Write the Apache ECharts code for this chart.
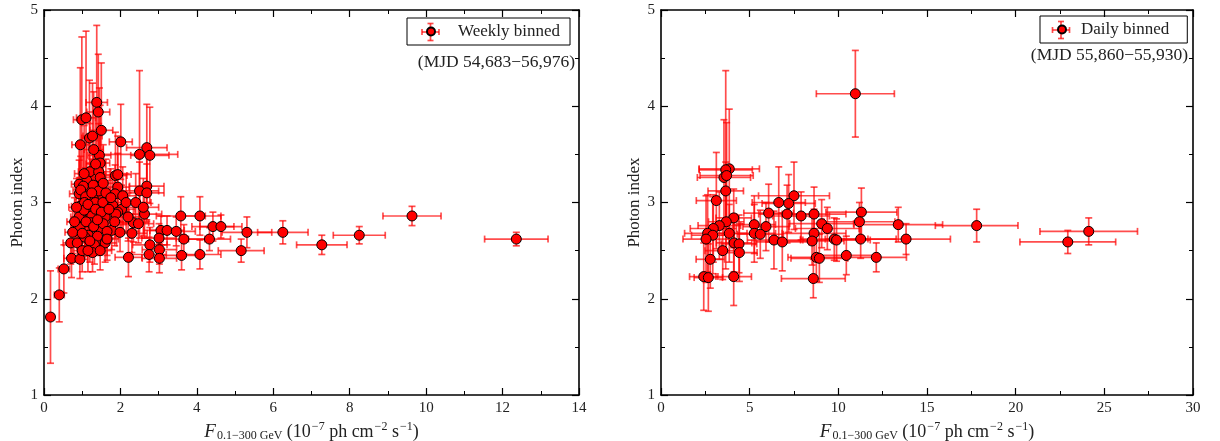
<!DOCTYPE html>
<html><head><meta charset="utf-8">
<script src="https://cdn.jsdelivr.net/npm/echarts@6/dist/echarts.min.js"></script>
<style>html,body{margin:0;padding:0;background:#fff}#c{width:1220px;height:441px}</style>
</head><body><div id="c"></div>
<script>
// ---------- Weekly binned (left panel) ----------
const weeklyFlux = [1.38,1.42,0.99,1.10,1.19,1.27,2.01,2.69,2.50,2.77,1.45,1.47,1.20,1.43,1.47,1.87,1.93,1.12,0.92,1.03,
  1.29,1.93,2.69,2.50,2.69,0.92,1.43,1.62,1.86,2.06,1.20,0.96,1.29,1.09,0.94,1.06,1.34,1.54,1.80,2.03,
  1.93,0.92,1.20,1.25,1.60,1.88,2.63,3.58,2.34,2.47,0.94,1.23,1.47,1.77,1.99,2.30,0.75,1.16,1.40,0.70,
  0.87,1.07,1.32,1.60,1.27,1.47,0.72,0.94,2.21,3.06,3.22,3.46,3.01,3.66,4.33,2.77,3.02,2.75,3.02,3.60,
  4.42,4.63,5.16,5.31,6.25,7.27,8.25,9.63,12.36,0.52,0.40,0.17,
  1.05,1.15,1.35,1.50,1.70,1.10,1.30,1.55,1.00,1.20,1.40,1.65,1.85,0.85,1.25,1.55,1.75,2.15,2.20,1.00,
  1.15,1.65,0.80,1.35,1.05,0.95,1.30,1.50,2.40,2.60,4.08,4.08];
const weeklyIndex = [4.04,3.94,3.86,3.88,3.67,3.69,3.63,3.57,3.50,3.49,3.49,3.41,3.32,3.32,3.26,3.28,3.29,3.23,3.19,3.17,
  3.18,3.16,3.17,3.12,3.10,3.09,3.12,3.10,3.09,3.07,3.06,3.13,3.04,3.06,2.96,3.00,3.00,3.00,2.97,2.93,
  2.90,2.85,2.89,2.86,2.85,2.88,2.88,2.86,2.79,2.78,2.74,2.79,2.73,2.71,2.69,2.68,2.69,2.66,2.65,2.58,
  2.58,2.64,2.56,2.58,2.48,2.50,2.42,2.41,2.43,2.71,2.71,2.70,2.63,2.62,2.62,2.56,2.51,2.46,2.42,2.45,
  2.75,2.75,2.50,2.69,2.69,2.56,2.66,2.86,2.62,2.31,2.04,1.81,
  2.92,2.98,2.93,2.90,2.93,2.80,2.75,2.78,2.68,2.60,2.82,2.70,2.80,2.95,3.10,3.20,3.05,3.00,2.85,2.50,
  2.50,2.62,2.80,3.40,3.30,3.60,3.55,3.75,3.00,2.95,2.86,2.46];
const weeklyFluxErr = [0.28,0.30,0.22,0.25,0.20,0.25,0.30,0.53,1.00,0.50,0.30,0.25,0.30,0.30,0.25,0.30,0.35,0.25,0.20,0.22,
  0.25,0.30,0.45,0.50,0.45,0.25,0.30,0.30,0.30,0.35,0.25,0.20,0.25,0.25,0.22,0.25,0.25,0.30,0.30,0.35,
  0.30,0.22,0.25,0.25,0.30,0.30,0.45,0.64,0.40,0.40,0.22,0.25,0.30,0.30,0.35,0.40,0.20,0.25,0.25,0.20,
  0.20,0.25,0.25,0.30,0.25,0.30,0.20,0.20,0.35,0.45,0.45,0.50,0.45,0.55,0.55,0.45,0.45,0.45,0.45,0.50,
  0.55,0.55,0.60,0.65,0.66,0.66,0.68,0.76,0.83,0.15,0.13,0.10,
  0.25,0.25,0.25,0.30,0.30,0.25,0.25,0.30,0.22,0.25,0.25,0.30,0.30,0.20,0.25,0.30,0.30,0.35,0.35,0.22,
  0.25,0.30,0.20,0.25,0.25,0.22,0.25,0.30,0.40,0.40,0.55,0.55];
const weeklyIndexErr = [0.80,0.60,0.86,0.90,0.60,0.55,0.39,0.45,0.87,0.50,0.70,0.60,0.50,0.50,0.45,0.45,0.40,0.45,0.40,0.45,
  0.40,0.35,0.35,0.30,0.30,0.35,0.35,0.35,0.30,0.30,0.35,0.35,0.30,0.30,0.30,0.30,0.30,0.30,0.30,0.25,
  0.25,0.25,0.25,0.25,0.25,0.25,0.25,0.20,0.20,0.20,0.22,0.22,0.20,0.20,0.20,0.20,0.22,0.20,0.20,0.22,
  0.20,0.20,0.20,0.20,0.20,0.20,0.20,0.20,0.20,0.15,0.15,0.15,0.15,0.15,0.12,0.18,0.15,0.18,0.15,0.15,
  0.15,0.12,0.12,0.16,0.12,0.10,0.09,0.10,0.07,0.25,0.28,0.48,
  0.30,0.30,0.30,0.30,0.30,0.25,0.25,0.25,0.25,0.22,0.30,0.25,0.25,0.30,0.35,0.40,0.30,0.30,0.25,0.22,
  0.22,0.22,0.25,0.55,0.50,0.80,0.60,0.70,0.30,0.30,0.20,0.15];

// ---------- Daily binned (right panel) ----------
const dailyFlux = [10.96,3.85,3.65,3.55,3.70,3.65,3.12,7.50,6.64,7.20,6.07,7.11,7.90,8.63,11.30,11.19,9.06,9.38,4.10,3.68,
  5.26,5.92,13.38,3.29,2.95,3.85,5.26,5.60,8.63,2.63,2.92,2.54,4.12,6.37,6.84,8.52,9.77,9.90,11.26,4.40,
  3.48,4.42,2.78,8.76,8.93,10.45,12.14,2.41,2.67,4.10,8.59,13.82,17.80,22.94,24.12];
const dailyIndex = [4.13,3.35,3.34,3.26,3.28,3.12,3.02,3.07,3.00,2.99,2.89,2.88,2.86,2.88,2.90,2.80,2.78,2.73,2.84,2.80,
  2.77,2.75,2.77,2.76,2.73,2.68,2.68,2.67,2.68,2.68,2.66,2.62,2.58,2.61,2.59,2.60,2.62,2.61,2.62,2.57,
  2.50,2.48,2.41,2.43,2.42,2.45,2.43,2.23,2.22,2.23,2.21,2.62,2.76,2.59,2.70];
const dailyFluxErr = [2.20,1.70,1.50,1.50,1.50,1.00,1.13,2.00,1.50,1.50,1.40,1.60,1.60,1.80,2.00,2.00,1.80,1.80,1.00,1.00,
  1.20,1.30,2.50,1.20,1.30,1.00,1.20,1.30,1.80,1.30,1.20,1.30,1.00,1.50,1.50,1.80,1.90,1.90,2.00,1.00,
  1.00,1.00,0.80,1.60,1.60,1.70,1.70,0.80,0.80,1.00,1.80,2.50,2.33,2.70,2.75];
const dailyIndexErr = [0.45,0.62,1.03,0.60,0.55,0.30,0.50,0.35,0.37,0.30,0.30,0.30,0.25,0.28,0.25,0.20,0.25,0.22,0.30,0.30,
  0.30,0.25,0.18,0.35,0.35,0.30,0.30,0.25,0.25,0.40,0.40,0.45,0.30,0.30,0.30,0.25,0.22,0.22,0.20,0.30,
  0.30,0.30,0.30,0.25,0.25,0.20,0.15,0.35,0.35,0.30,0.20,0.16,0.17,0.12,0.14];

// axis ticks
const weeklyXTicks = [0,2,4,6,8,10,12,14];
const dailyXTicks = [0,5,10,15,20,25,30];
const indexTicks = [1,2,3,4,5];

const FONT = "'Liberation Serif','DejaVu Serif',serif";
const ERR_COLOR = 'rgba(255,0,0,0.7)';

function rows(xs, ys, xe, ye){ return xs.map((x,i)=>[x, ys[i], xe[i], ye[i]]); }

function errRender(params, api){
  const x = api.value(0), y = api.value(1), xe = api.value(2), ye = api.value(3);
  const l = api.coord([x-xe, y]), r = api.coord([x+xe, y]);
  const t = api.coord([x, y+ye]), b = api.coord([x, y-ye]);
  const cap = 3.5;
  const style = {stroke: ERR_COLOR, lineWidth: 1.7};
  const ln = (x1,y1,x2,y2)=>({type:'line', shape:{x1,y1,x2,y2}, style});
  return {type:'group', children:[
    ln(l[0],l[1],r[0],r[1]),
    ln(l[0],l[1]-cap,l[0],l[1]+cap),
    ln(r[0],r[1]-cap,r[0],r[1]+cap),
    ln(t[0],t[1],b[0],b[1]),
    ln(t[0]-cap,t[1],t[0]+cap,t[1]),
    ln(b[0]-cap,b[1],b[0]+cap,b[1])
  ]};
}

const xName = {
  formatter: '{f|F}{sub|0.1−300 GeV}{n| (10}{sup|−7}{n| ph cm}{sup|−2}{n| s}{sup|−1}{n|)}',
  rich: {
    f: {fontFamily: FONT, fontStyle:'italic', fontSize: 19, color:'#222'},
    sub: {fontFamily: FONT, fontSize: 12, color:'#222', padding:[8,0,0,1]},
    n: {fontFamily: FONT, fontSize: 18, color:'#222'},
    sup: {fontFamily: FONT, fontSize: 12, color:'#222', padding:[0,0,10,1]}
  }
};

function axisCommon(min, max, interval, showLabels){
  return {
    min, max, interval,
    axisLine: {onZero:false, lineStyle:{color:'#000', width:1.6}},
    axisTick: {inside:true, length:7, lineStyle:{color:'#000', width:1.2}},
    minorTick: {show:true, splitNumber:2, length:4, lineStyle:{color:'#000', width:1}},
    splitLine: {show:false},
    axisLabel: {show: showLabels, color:'#222', fontFamily: FONT, fontSize: 15, margin: 6}
  };
}

const grids = [
  {left:44, top:10, width:535, height:385, containLabel:false, outerBoundsMode:'none'},
  {left:661, top:10, width:532, height:385, containLabel:false, outerBoundsMode:'none'}
];

const xAxes = [
  Object.assign(axisCommon(weeklyXTicks[0], weeklyXTicks[weeklyXTicks.length-1], weeklyXTicks[1]-weeklyXTicks[0], true),
    {gridIndex:0, position:'bottom', name: xName.formatter, nameLocation:'middle', nameGap:15,
     nameTextStyle:{rich: xName.rich}}),
  Object.assign(axisCommon(weeklyXTicks[0], weeklyXTicks[weeklyXTicks.length-1], weeklyXTicks[1]-weeklyXTicks[0], false),
    {gridIndex:0, position:'top'}),
  Object.assign(axisCommon(dailyXTicks[0], dailyXTicks[dailyXTicks.length-1], dailyXTicks[1]-dailyXTicks[0], true),
    {gridIndex:1, position:'bottom', name: xName.formatter, nameLocation:'middle', nameGap:15,
     nameTextStyle:{rich: xName.rich}}),
  Object.assign(axisCommon(dailyXTicks[0], dailyXTicks[dailyXTicks.length-1], dailyXTicks[1]-dailyXTicks[0], false),
    {gridIndex:1, position:'top'})
];
const yMin = indexTicks[0], yMax = indexTicks[indexTicks.length-1], yInt = indexTicks[1]-indexTicks[0];
const yName = {name:'Photon index', nameLocation:'middle', nameGap:18, nameRotate:90,
  nameTextStyle:{fontFamily:FONT, fontSize:17, color:'#222'}};
const yAxes = [
  Object.assign(axisCommon(yMin,yMax,yInt,true), {gridIndex:0, position:'left'}, yName),
  Object.assign(axisCommon(yMin,yMax,yInt,false), {gridIndex:0, position:'right'}),
  Object.assign(axisCommon(yMin,yMax,yInt,true), {gridIndex:1, position:'left'}, yName),
  Object.assign(axisCommon(yMin,yMax,yInt,false), {gridIndex:1, position:'right'})
];

const weeklyRows = rows(weeklyFlux, weeklyIndex, weeklyFluxErr, weeklyIndexErr);
const dailyRows = rows(dailyFlux, dailyIndex, dailyFluxErr, dailyIndexErr);

const markerStyle = {color:'#ff0000', borderColor:'#000', borderWidth:1, opacity:1};

const legendCommon = {
  orient:'horizontal', icon:'circle', itemWidth:8, itemHeight:8,
  borderColor:'#000', borderWidth:1, borderRadius:0,
  textStyle:{fontFamily:FONT, fontSize:17, color:'#222', padding:[0,0,0,18]},
  selectedMode:false, z:5
};

// small error-bar cross drawn behind each legend marker
function legendCross(cx, cy){
  const s = {stroke: ERR_COLOR, lineWidth: 1.7};
  const h = 8.5, c = 3;
  return {type:'group', z:4, children:[
    {type:'line', shape:{x1:cx-h,y1:cy,x2:cx+h,y2:cy}, style:s},
    {type:'line', shape:{x1:cx-h,y1:cy-c,x2:cx-h,y2:cy+c}, style:s},
    {type:'line', shape:{x1:cx+h,y1:cy-c,x2:cx+h,y2:cy+c}, style:s},
    {type:'line', shape:{x1:cx,y1:cy-h,x2:cx,y2:cy+h}, style:s},
    {type:'line', shape:{x1:cx-c,y1:cy-h,x2:cx+c,y2:cy-h}, style:s},
    {type:'line', shape:{x1:cx-c,y1:cy+h,x2:cx+c,y2:cy+h}, style:s}
  ]};
}

const option = {
  backgroundColor:'#fff',
  animation:false,
  grid: grids,
  xAxis: xAxes,
  yAxis: yAxes,
  legend: [
    Object.assign({}, legendCommon, {data:['Weekly binned'], left:407, top:18, padding:[5,10,5,19]}),
    Object.assign({}, legendCommon, {data:['Daily binned'], left:1040, top:16, padding:[5,18,5,17],
      textStyle:Object.assign({}, legendCommon.textStyle, {padding:[0,0,0,10]})})
  ],
  graphic: [
    legendCross(430.5, 32),
    legendCross(1061, 30),
    {type:'text', right:645, top:53, style:{text:'(MJD 54,683−56,976)', font:"17.5px 'Liberation Serif'", fill:'#222'}},
    {type:'text', right:32, top:46, style:{text:'(MJD 55,860−55,930)', font:"17.5px 'Liberation Serif'", fill:'#222'}}
  ],
  series: [
    {type:'custom', name:'Weekly binned err', xAxisIndex:0, yAxisIndex:0, renderItem: errRender,
     data: weeklyRows, encode:{x:0, y:1}, clip:true, z:1, silent:true},
    {type:'scatter', name:'Weekly binned', xAxisIndex:0, yAxisIndex:0, symbolSize:10,
     data: weeklyRows.map(r=>[r[0], r[1]]), itemStyle: markerStyle, z:3},
    {type:'custom', name:'Daily binned err', xAxisIndex:2, yAxisIndex:2, renderItem: errRender,
     data: dailyRows, encode:{x:0, y:1}, clip:true, z:1, silent:true},
    {type:'scatter', name:'Daily binned', xAxisIndex:2, yAxisIndex:2, symbolSize:10,
     data: dailyRows.map(r=>[r[0], r[1]]), itemStyle: markerStyle, z:3}
  ]
};
const chart = echarts.init(document.getElementById('c'), null, {renderer:'canvas'});
chart.setOption(option);
</script>
</body></html>
